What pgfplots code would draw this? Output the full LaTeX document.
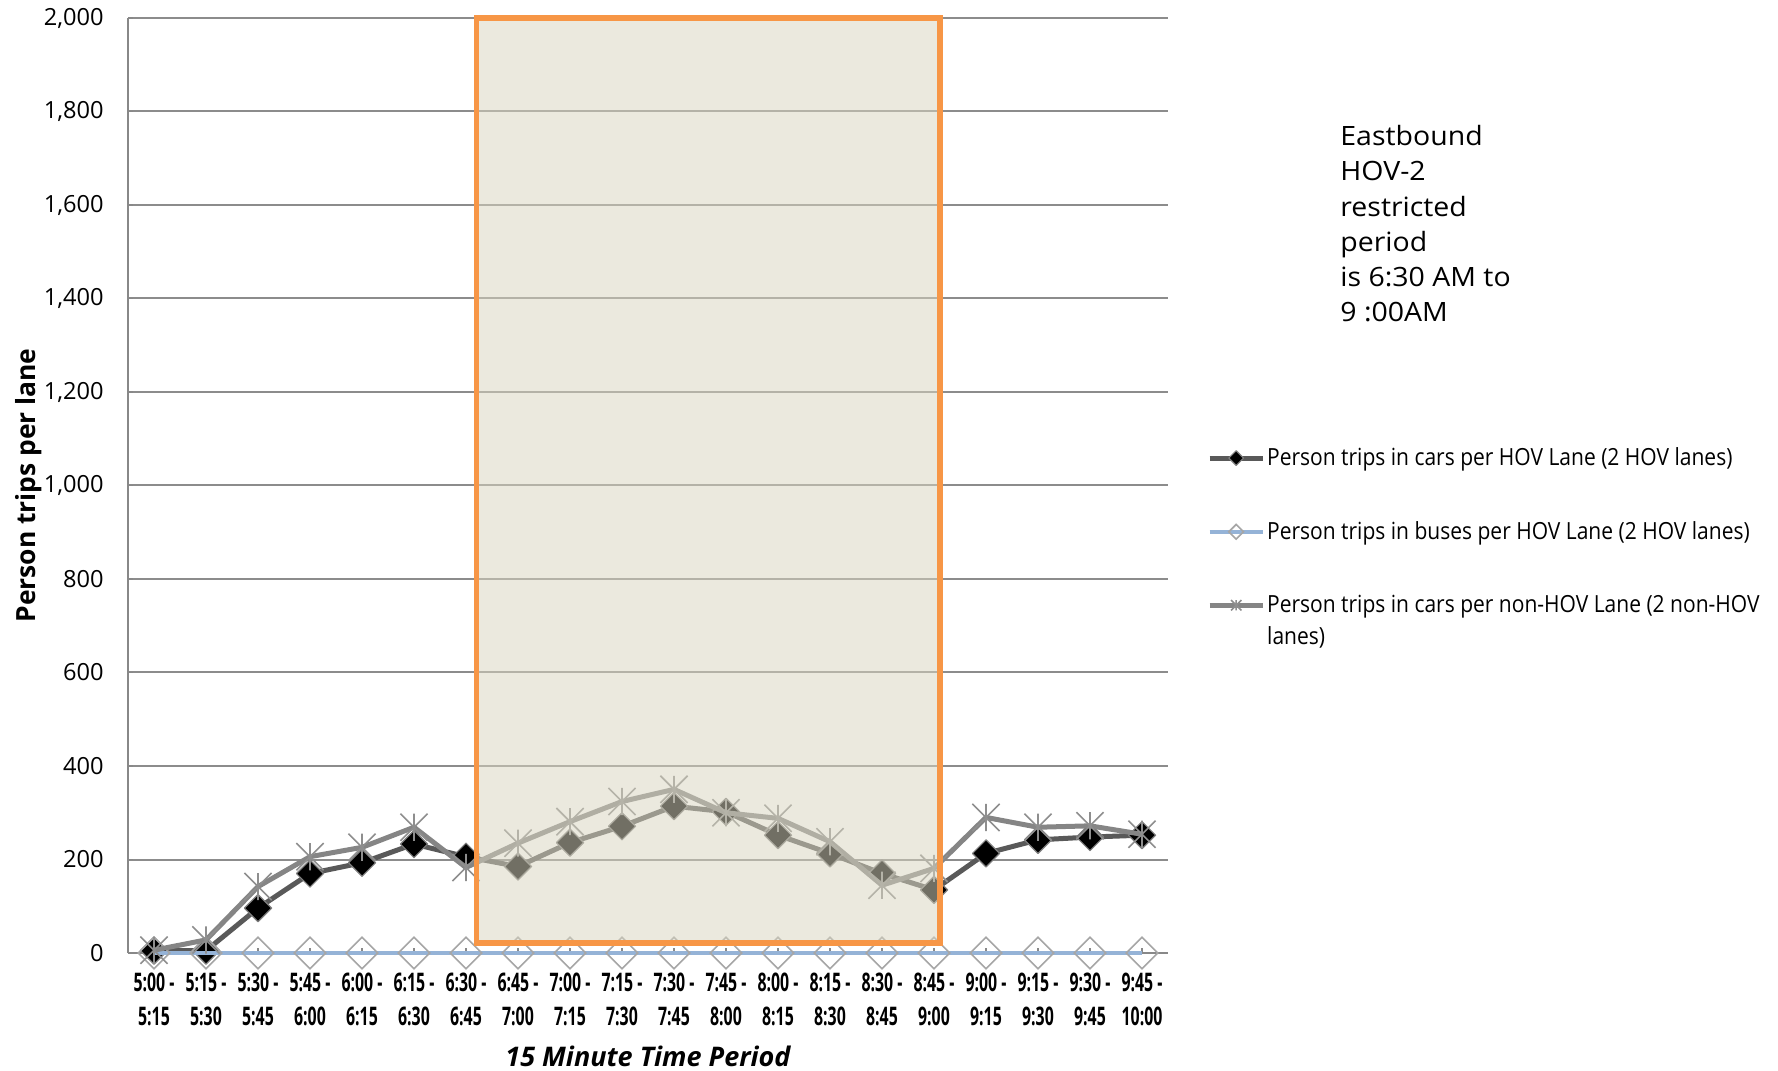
\documentclass[border=0pt]{standalone}
\usepackage{fontspec}
\setmainfont{Open Sans}
\newfontfamily\condbold[FakeStretch=0.62]{Open Sans}
\newfontfamily\condreg[FakeStretch=0.89]{Open Sans}
\newfontfamily\widereg[FakeStretch=1.07]{Open Sans}
\usepackage{pgfplots}
\usepackage{pgfplotstable}
\pgfplotsset{compat=1.18}

\definecolor{hovline}{HTML}{595959}
\definecolor{hovedge}{HTML}{7F7F7F}
\definecolor{busline}{HTML}{95B3D7}
\definecolor{busmark}{HTML}{A6A6A6}
\definecolor{genline}{HTML}{858585}
\definecolor{genmark}{HTML}{8E8E8E}
\definecolor{gridgray}{HTML}{8C8C8C}
\definecolor{axisgray}{HTML}{888888}
\definecolor{periodfill}{RGB}{217,213,192}
\definecolor{hovorange}{HTML}{F79646}

% star marker: an X with a vertical stroke through it
\pgfdeclareplotmark{xstar}{%
  \pgfpathmoveto{\pgfpoint{-\pgfplotmarksize}{-\pgfplotmarksize}}%
  \pgfpathlineto{\pgfpoint{\pgfplotmarksize}{\pgfplotmarksize}}%
  \pgfpathmoveto{\pgfpoint{-\pgfplotmarksize}{\pgfplotmarksize}}%
  \pgfpathlineto{\pgfpoint{\pgfplotmarksize}{-\pgfplotmarksize}}%
  \pgfpathmoveto{\pgfpoint{0pt}{-\pgfplotmarksize}}%
  \pgfpathlineto{\pgfpoint{0pt}{\pgfplotmarksize}}%
  \pgfusepathqstroke}

% person trips per lane, 15-minute periods from 5:00 to 10:00
\pgfplotstableread{
idx hovcar bus gencar
0   5    0  6
1   5    0  28
2   96   0  142
3   170  0  206
4   193  0  226
5   233  0  269
6   206  0  183
7   185  0  235
8   236  0  281
9   271  0  324
10  314  0  350
11  302  0  300
12  252  0  288
13  213  0  238
14  170  0  145
15  135  0  181
16  213  0  290
17  242  0  269
18  248  0  272
19  252  0  254
}\tripdata

\begin{document}
\begin{tikzpicture}
\begin{axis}[
  at={(64pt,59pt)}, anchor=south west,
  width=520pt, height=467.5pt, scale only axis,
  xmin=-0.5, xmax=19.5, ymin=0, ymax=2000,
  clip=false, clip mode=individual,
  axis x line=bottom, axis y line=left,
  axis line style={draw=axisgray, line width=1pt, -},
  xtick={0,...,19},
  xticklabels={{5:00 -\\5:15},{5:15 -\\5:30},{5:30 -\\5:45},{5:45 -\\6:00},
    {6:00 -\\6:15},{6:15 -\\6:30},{6:30 -\\6:45},{6:45 -\\7:00},{7:00 -\\7:15},
    {7:15 -\\7:30},{7:30 -\\7:45},{7:45 -\\8:00},{8:00 -\\8:15},{8:15 -\\8:30},
    {8:30 -\\8:45},{8:45 -\\9:00},{9:00 -\\9:15},{9:15 -\\9:30},{9:30 -\\9:45},
    {9:45 -\\10:00}},
  ytick={0,200,...,2000},
  yticklabels={0,200,400,600,800,{1,000},{1,200},{1,400},{1,600},{1,800},{2,000}},
  tick align=inside, major tick length=2.5pt,
  tick style={draw=axisgray, line width=0.8pt},
  ymajorgrids, major grid style={draw=gridgray, line width=1pt},
  xticklabel style={font=\condbold\bfseries\fontsize{12.8}{17}\selectfont,
    align=center, anchor=north, inner sep=0pt, yshift=-10pt},
  yticklabel style={font=\fontsize{11.8}{14}\selectfont,
    anchor=east, inner sep=0pt, xshift=-12pt},
  xlabel={15 Minute Time Period},
  xlabel style={font=\bfseries\itshape\fontsize{13.5}{16}\selectfont,
    at={(axis description cs:0.5,-0.11016)}, anchor=center},
  ylabel={Person trips per lane},
  ylabel style={font=\bfseries\fontsize{13.2}{15}\selectfont,
    at={(axis description cs:-0.0958,0.5)}, anchor=center},
  legend cell align=left,
  legend style={draw=none, fill=none, inner sep=0pt, row sep=24.4pt,
    at={(axis description cs:1.0373,0.5431)}, anchor=north west,
    font=\condreg\fontsize{11.8}{16}\selectfont,
    nodes={inner sep=1pt}},
  legend image code/.code={%
    \draw[mark repeat=2, mark phase=2, #1, mark size=2.6pt]
      plot coordinates {(0pt,0pt) (13.25pt,0pt) (26.5pt,0pt)};},
]
\addplot[hovline, line width=2.5pt, line join=round,
  mark=square*, mark size=4.8pt,
  mark options={solid, rotate=45, fill=black, draw=hovedge, line width=0.6pt}]
  table[x=idx, y=hovcar]{\tripdata};
\addlegendentry{Person trips in cars per HOV Lane (2 HOV lanes)}

\addplot[busline, line width=1.8pt,
  mark=square, mark size=5.6pt,
  mark options={solid, rotate=45, draw=busmark, line width=0.8pt}]
  table[x=idx, y=bus]{\tripdata};
\addlegendentry{Person trips in buses per HOV Lane (2 HOV lanes)}

\addplot[genline, line width=2.5pt, line join=round,
  mark=xstar, mark size=6.8pt,
  mark options={solid, draw=genmark, line width=0.8pt}]
  table[x=idx, y=gencar]{\tripdata};
\addlegendentry{\smash{\rlap{\raisebox{-16pt}{lanes)}}}Person trips in cars per non-HOV Lane (2 non-HOV}

% HOV-2 restricted period, 6:30 AM to 9:00 AM
\fill[periodfill, opacity=0.52] (axis cs:6.2,22) rectangle (axis cs:15.12,2000);
\draw[hovorange, line width=2.8pt] (axis cs:6.2,22) rectangle (axis cs:15.12,2000);
\end{axis}

\node[anchor=north west, inner sep=0pt, align=left,
  font=\widereg\fontsize{13.3}{17.6}\selectfont] at (670pt,473pt)
  {Eastbound\\HOV-2\\restricted\\period\\is 6:30 AM to\\9 :00AM};

\pgfresetboundingbox
\path[use as bounding box] (0pt,0pt) rectangle (889pt,535.5pt);
\end{tikzpicture}
\end{document}
